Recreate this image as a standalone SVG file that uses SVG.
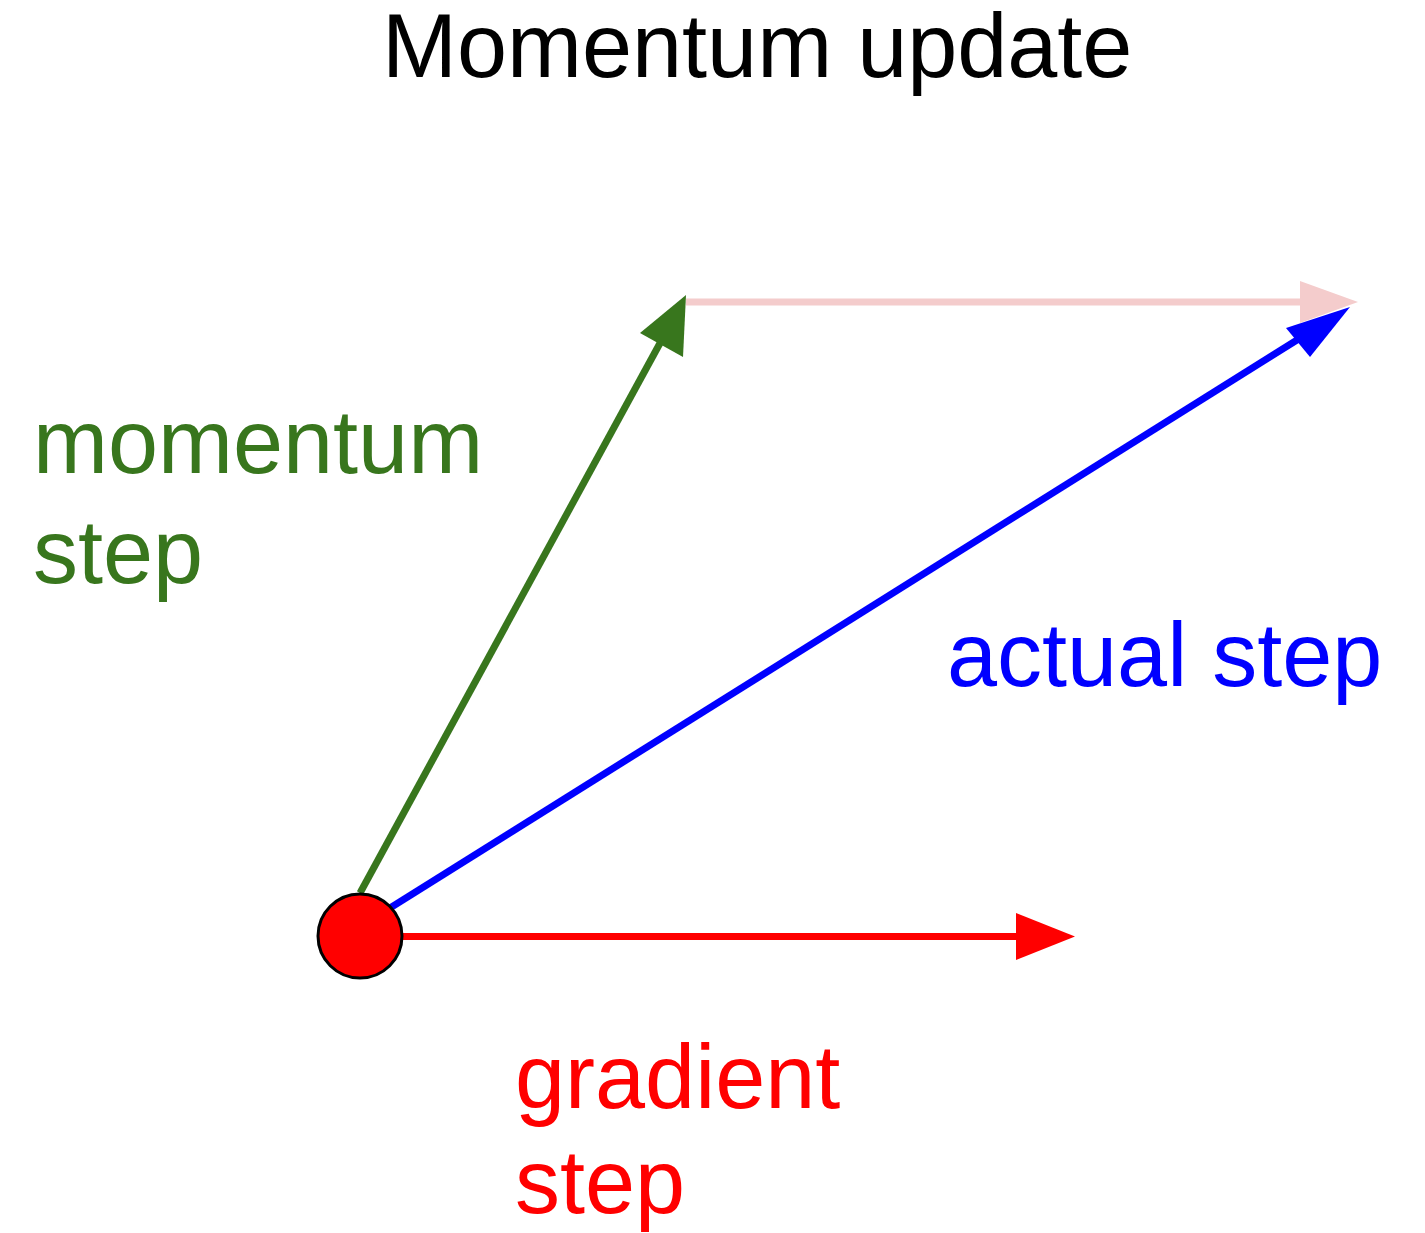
<svg xmlns="http://www.w3.org/2000/svg" width="1425" height="1233" viewBox="0 0 1425 1233">
<style>
text{font-family:"Liberation Sans",Arial,sans-serif;font-size:90px}
.ln{fill:none;stroke-width:7}
</style>
<rect width="1425" height="1233" fill="#fff"/>
<g id="title"><text x="382" y="77" fill="#000">Momentum update</text></g>
<g id="connectors">
<line class="ln" x1="686" y1="302" x2="1305" y2="302" stroke="#f4cccc"/>
<polygon points="1358,302 1300,281 1300,323" fill="#f4cccc"/>
<line class="ln" x1="360" y1="893" x2="665" y2="334" stroke="#38761d"/>
<polygon points="686,295 640,333 683,357" fill="#38761d"/>
<line class="ln" x1="390" y1="908" x2="1305" y2="335" stroke="#0000ff"/>
<polygon points="1350,307 1286,328 1310,357" fill="#0000ff"/>
<line class="ln" x1="400" y1="936.5" x2="1020" y2="936.5" stroke="#ff0000"/>
<polygon points="1075,936.5 1016,913 1016,960" fill="#ff0000"/>
</g>
<g id="origin"><circle cx="360" cy="936" r="42" fill="#ff0000" stroke="#000" stroke-width="3"/></g>
<g id="momentum-label"><text x="33" y="473" fill="#38761d">momentum</text><text x="33" y="583" fill="#38761d">step</text></g>
<g id="actual-label"><text x="947" y="686" fill="#0000ff">actual step</text></g>
<g id="gradient-label"><text x="515" y="1108" fill="#ff0000">gradient</text><text x="515" y="1213" fill="#ff0000">step</text></g>
</svg>
